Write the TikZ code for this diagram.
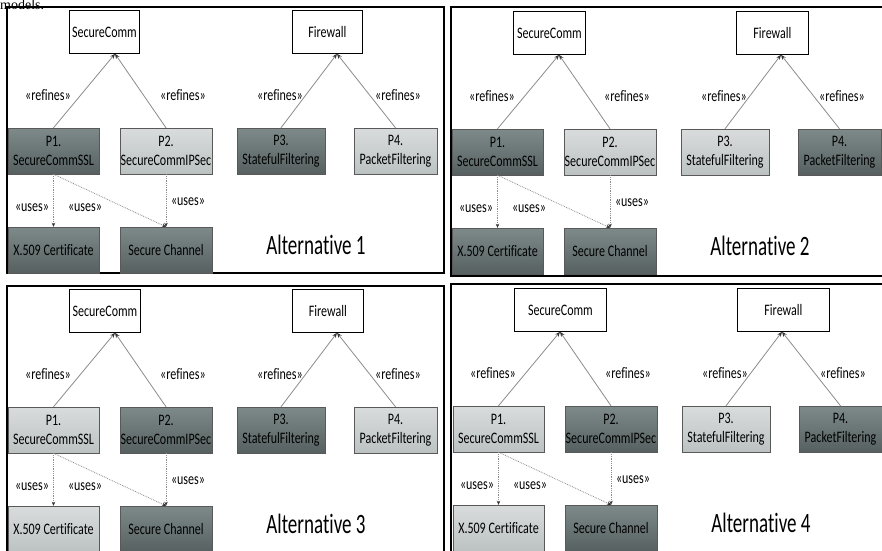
\documentclass[tikz,border=0pt]{standalone}
\usepackage{fontspec}
\setmainfont{Carlito}[FakeStretch=0.75,Ligatures=NoCommon]
\newfontfamily\altfont{Carlito}[FakeStretch=0.68,Ligatures=NoCommon]
\newfontfamily\capfont{Liberation Serif}
\usetikzlibrary{arrows.meta}

\definecolor{topdk}{HTML}{7E8A8A}
\definecolor{botdk}{HTML}{566060}
\definecolor{toplt}{HTML}{D9DCDC}
\definecolor{botlt}{HTML}{BCC2C2}
\definecolor{linegray}{HTML}{8C8C8C}

\begin{document}
\begin{tikzpicture}[x=1pt,y=-1pt,
        box/.style={draw=black!65,align=center,minimum height=46pt,inner sep=0pt,
            font=\fontsize{16}{19}\selectfont},
        topbox/.style={draw=black,thick,fill=white,minimum height=43pt,inner sep=0pt,
            anchor=north west,font=\fontsize{16}{19}\selectfont},
        lbl/.style={font=\fontsize{16}{19}\selectfont,inner sep=0pt},
        alttext/.style={font=\altfont\fontsize{28}{32}\selectfont,inner sep=0pt},
        refine/.style={draw=linegray,line width=0.8pt,-{Stealth[length=5pt,width=4pt,black!80]}},
        uses/.style={draw=linegray,line width=0.8pt,densely dotted,-{Stealth[length=4pt,width=3.5pt,black!80]}},
        frame/.style={draw=black,line width=1.4pt}
    ]
    \clip (0,0) rectangle (882,550);
    \fill[white] (0,0) rectangle (882,550);
    \node[font=\capfont\fontsize{14}{16}\selectfont,anchor=base west,inner sep=0pt] (cap) at (0,9.8) {models.};

    % panel frames
    \draw[frame] (7,7) rectangle (444,273);
    \draw[frame] (451,7) rectangle (900,276);
    \draw[frame] (7,286) rectangle (444,570);
    \draw[frame] (451,284) rectangle (900,570);

    \foreach \k/\dx/\dy/\wt/\pa/\pb/\pc/\pd/\pe in {
            1/0/0/70/dk/lt/dk/lt/dk,
            2/444/1/72/dk/lt/lt/dk/dk,
            3/0/279/71/lt/dk/dk/lt/lt,
            4/445/278/92/lt/dk/lt/dk/lt}{
        \begin{scope}[shift={(\dx,\dy)}]
            \node[topbox,minimum width=\wt pt] (sc\k) at (69,10) {SecureComm};
            \node[topbox,minimum width=\wt pt] (fw\k) at (292,10) {Firewall};
            \node[box,top color=top\pa,bottom color=bot\pa,minimum width=91pt] (pa\k) at (53.5,151) {P1.\\SecureCommSSL};
            \node[box,top color=top\pb,bottom color=bot\pb,minimum width=92pt] (pb\k) at (166,151) {P2.\\SecureCommIPSec};
            \node[box,top color=top\pc,bottom color=bot\pc,minimum width=88pt] (pc\k) at (281,151) {P3.\\StatefulFiltering};
            \node[box,top color=top\pd,bottom color=bot\pd,minimum width=83pt] (pd\k) at (395.5,151) {P4.\\PacketFiltering};
            \node[box,top color=top\pe,bottom color=bot\pe,minimum width=91pt] (cert\k) at (53.5,250) {X.509 Certificate};
            \node[box,top color=topdk,bottom color=botdk,minimum width=92pt] (chan\k) at (166,250) {Secure Channel};
            \node[alttext] (alt\k) at (316,245) {Alternative \k};

            \draw[refine] (pa\k.north) -- ([xshift=46pt]sc\k.south west);
            \draw[refine] (pb\k.north) -- ([xshift=46pt]sc\k.south west);
            \draw[refine] (pc\k.north) -- ([xshift=45pt]fw\k.south west);
            \draw[refine] (pd\k.north) -- ([xshift=45pt]fw\k.south west);
            \draw[uses] (pa\k.south) -- (cert\k.north);
            \draw[uses] (pa\k.south) -- (chan\k.north);
            \draw[uses] (pb\k.south) -- (chan\k.north);

            \node[lbl] (ra\k) at (48,95) {«refines»};
            \node[lbl] (rb\k) at (183,95) {«refines»};
            \node[lbl] (rc\k) at (280,95) {«refines»};
            \node[lbl] (rd\k) at (398,95) {«refines»};
            \node[lbl] (ua\k) at (32,208) {«uses»};
            \node[lbl] (ub\k) at (85,208) {«uses»};
            \node[lbl] (uc\k) at (188,202) {«uses»};
        \end{scope}
    }
\end{tikzpicture}
\end{document}
